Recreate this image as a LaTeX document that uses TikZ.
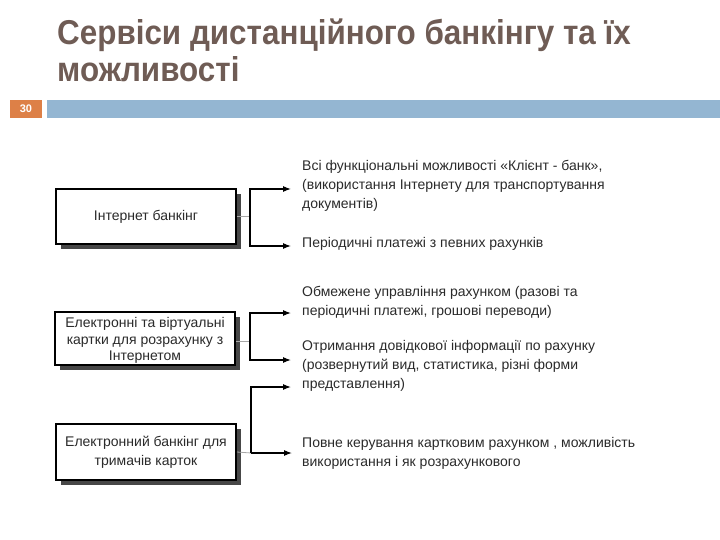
\documentclass[tikz,border=0pt]{standalone}
\usepackage{fontspec}
\setmainfont{Liberation Sans}
\newfontfamily\titlefont[FakeStretch=0.91]{Liberation Sans Bold}
\usetikzlibrary{arrows.meta,shadows}
\definecolor{titlec}{HTML}{6F5C55}
\definecolor{orangec}{HTML}{DD8047}
\definecolor{bluec}{HTML}{94B6D2}
\definecolor{txtc}{HTML}{2A2A2A}
\tikzset{
  boxnode/.style={draw=black, line width=1.6pt, fill=white, minimum width=180pt,
    inner sep=1pt, align=center, text=txtc, font=\fontsize{14}{16.5}\selectfont,
    drop shadow={shadow xshift=5pt, shadow yshift=-5pt, fill=black!72, opacity=1}},
  desc/.style={anchor=north west, inner sep=0pt, align=left, text=txtc,
    font=\fontsize{14}{19}\selectfont},
  feed/.style={draw=black!35, line width=0.8pt},
  arr/.style={draw=black, line width=1.1pt, -{Latex[length=8pt,width=6pt]}},
  titletext/.style={anchor=base west, inner sep=0pt, text=titlec,
    font=\titlefont\fontsize{34.5}{37}\selectfont}
}
\begin{document}
\begin{tikzpicture}[x=1pt,y=-1pt]
\useasboundingbox (0,0) rectangle (720,540);
% title
\node[titletext] (title1) at (57,45) {Сервіси дистанційного банкінгу та їх};
\node[titletext] (title2) at (57,82) {можливості};
% slide number bar
\fill[orangec] (10,100) rectangle (42,118);
\node[text=white, font=\bfseries\fontsize{11}{12}\selectfont] (num) at (26,109) {30};
\fill[bluec] (47,100) rectangle (720,118);
% boxes
\node[boxnode, minimum height=55pt] (b1) at (146,216.5) {Інтернет банкінг};
\node[boxnode, minimum height=53pt] (b2) at (145,338.5) {\rule{0pt}{14pt}Електронні та віртуальні\\картки для розрахунку з\\Інтернетом};
\node[boxnode, minimum height=56pt, font=\fontsize{14}{19}\selectfont] (b3) at (146,452) {Електронний банкінг для\\тримачів карток};
% descriptions
\node[desc] (t1) at (302,160) {Всі функціональні можливості «Клієнт - банк»,\\(використання Інтернету для транспортування\\документів)};
\node[desc] (t2) at (302,237) {Періодичні платежі з певних рахунків};
\node[desc] (t3) at (302,286) {Обмежене управління рахунком (разові та\\періодичні платежі, грошові переводи)};
\node[desc] (t4) at (302,340) {Отримання довідкової інформації по рахунку\\(розвернутий вид, статистика, різні форми\\представлення)};
\node[desc] (t5) at (302,437) {Повне керування картковим рахунком , можливість\\використання і як розрахункового};
% junctions and arrow targets
\coordinate (j1) at (250,216.5);
\coordinate (j2) at (250,341);
\coordinate (j3) at (251,453);
\coordinate (a1) at (291,189);
\coordinate (a2) at (291,246);
\coordinate (a3) at (291,313);
\coordinate (a4) at (291,360);
\coordinate (a6) at (291,387);
\coordinate (a5) at (292,453);
% connectors
\draw[feed] (b1.east) -- (j1);
\draw[arr] (j1) |- (a1);
\draw[arr] (j1) |- (a2);
\draw[feed] (b2.east |- j2) -- (j2);
\draw[arr] (j2) |- (a3);
\draw[arr] (j2) |- (a4);
\draw[feed] (b3.east) -- (j3);
\draw[arr] (j3) -- (a5);
\draw[arr] (j3) |- (a6);
\end{tikzpicture}
\end{document}
